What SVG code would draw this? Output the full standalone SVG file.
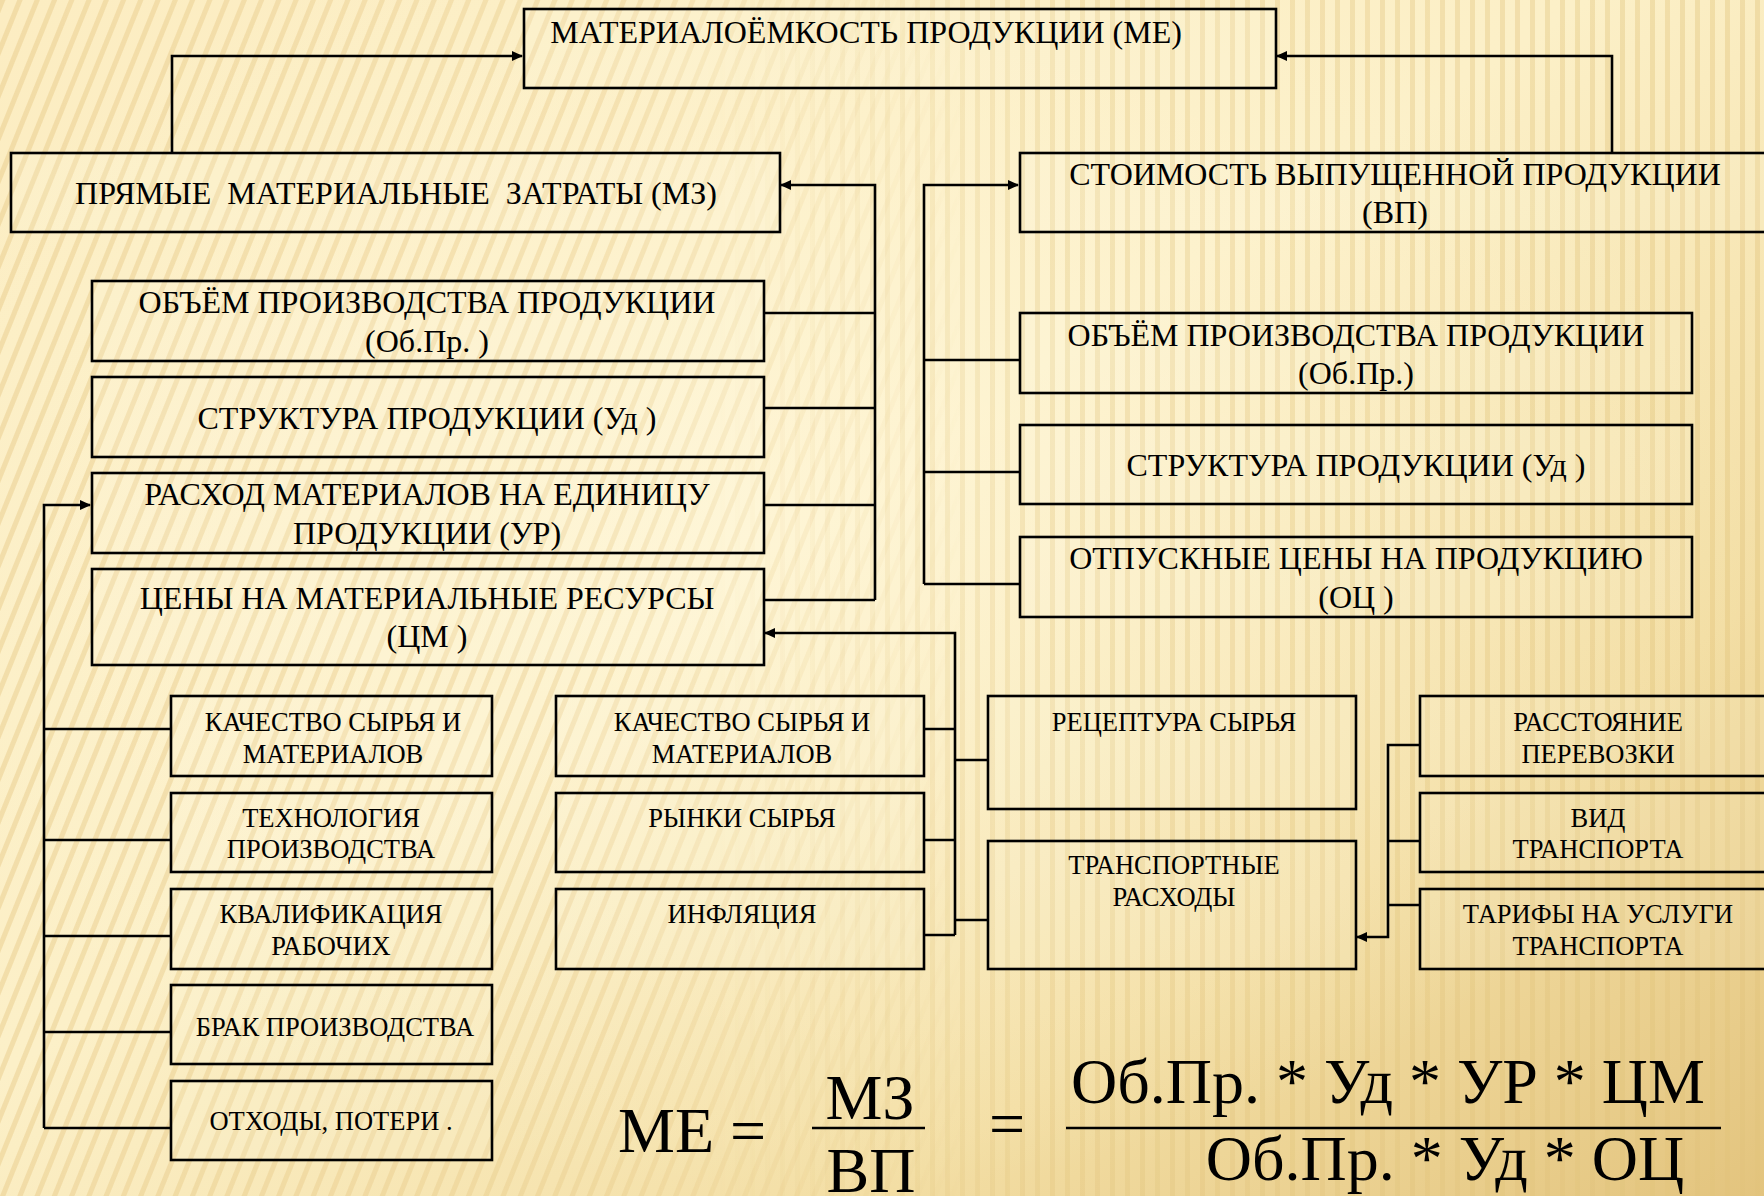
<svg xmlns="http://www.w3.org/2000/svg" width="1764" height="1196" viewBox="0 0 1764 1196">
<defs>
<linearGradient id="bgGrad" x1="0" y1="0" x2="1" y2="1">
<stop offset="0" stop-color="#FCEDC2"/>
<stop offset="0.45" stop-color="#FCF0C8"/>
<stop offset="0.75" stop-color="#F3DEA4"/>
<stop offset="1" stop-color="#E3C47E"/>
</linearGradient>
<radialGradient id="glow" cx="0.45" cy="0.45" r="0.55">
<stop offset="0" stop-color="#FFF7DA" stop-opacity="0.7"/>
<stop offset="1" stop-color="#FFF7DA" stop-opacity="0"/>
</radialGradient>
<pattern id="diag" width="16" height="16" patternUnits="userSpaceOnUse" patternTransform="rotate(22)">
<rect x="0" y="0" width="5" height="16" fill="#E6C985" fill-opacity="0.45"/>
</pattern>
<pattern id="vert" width="15" height="15" patternUnits="userSpaceOnUse">
<rect x="0" y="0" width="5" height="15" fill="#E2C27A" fill-opacity="0.4"/>
</pattern>
<linearGradient id="fadeL" x1="0" y1="0" x2="1" y2="0">
<stop offset="0" stop-color="#fff" stop-opacity="1"/>
<stop offset="0.35" stop-color="#fff" stop-opacity="0.8"/>
<stop offset="0.55" stop-color="#fff" stop-opacity="0"/>
</linearGradient>
<linearGradient id="fadeR" x1="0" y1="0" x2="1" y2="0">
<stop offset="0.4" stop-color="#fff" stop-opacity="0"/>
<stop offset="0.6" stop-color="#fff" stop-opacity="0.8"/>
<stop offset="1" stop-color="#fff" stop-opacity="1"/>
</linearGradient>
<mask id="mL"><rect width="1764" height="1196" fill="url(#fadeL)"/></mask>
<mask id="mR"><rect width="1764" height="1196" fill="url(#fadeR)"/></mask>
<marker id="arr" markerUnits="userSpaceOnUse" markerWidth="11" markerHeight="10" refX="10" refY="5" orient="auto">
<path d="M0,0 L11,5 L0,10 z" fill="#000"/>
</marker>
<style>
.box{fill:#FFFDF0;fill-opacity:0.12;stroke:#000;stroke-width:2.6}
.ln{fill:none;stroke:#000;stroke-width:2.6}
.t{font-family:"Liberation Serif","Times New Roman",serif;fill:#000;text-anchor:middle}
.big{font-size:32px}
.sm{font-size:26.5px}
.f{font-family:"Liberation Serif","Times New Roman",serif;fill:#000;font-size:64px}
</style>
</defs>

<g id="background">
<rect width="1764" height="1196" fill="url(#bgGrad)"/>
<rect width="1764" height="1196" fill="url(#glow)"/>
<rect width="1764" height="1196" fill="url(#diag)" mask="url(#mL)"/>
<rect width="1764" height="1196" fill="url(#vert)" mask="url(#mR)"/>
</g>

<g id="connectors">
<path class="ln" d="M172,153 V56 H522" marker-end="url(#arr)"/>
<path class="ln" d="M1612,153 V56 H1277" marker-end="url(#arr)"/>
<path class="ln" d="M875,600 V185 H781" marker-end="url(#arr)"/>
<path class="ln" d="M764,313 H875 M764,408 H875 M764,505 H875 M764,600 H875"/>
<path class="ln" d="M924,584 V185 H1018" marker-end="url(#arr)"/>
<path class="ln" d="M924,360 H1020 M924,472 H1020 M924,584 H1020"/>
<path class="ln" d="M955,935 V633 H765" marker-end="url(#arr)"/>
<path class="ln" d="M924,729 H955 M924,840 H955 M924,935 H955 M955,760 H988 M955,920 H988"/>
<path class="ln" d="M1420,745 H1388 V937 H1357" marker-end="url(#arr)"/>
<path class="ln" d="M1388,841 H1420 M1388,905 H1420"/>
<path class="ln" d="M44,1128 V505 H90" marker-end="url(#arr)"/>
<path class="ln" d="M44,729 H171 M44,840 H171 M44,936 H171 M44,1032 H171 M44,1128 H171"/>
</g>

<g id="node-me">
<rect class="box" x="524" y="9" width="752" height="79"/>
<text class="t big" x="866" y="43">МАТЕРИАЛОЁМКОСТЬ ПРОДУКЦИИ (МЕ)</text>
</g>

<g id="node-mz">
<rect class="box" x="11" y="153" width="769" height="79"/>
<text class="t big" x="396" y="204" xml:space="preserve" style="white-space:pre">ПРЯМЫЕ  МАТЕРИАЛЬНЫЕ  ЗАТРАТЫ (МЗ)</text>
</g>

<g id="node-vp">
<rect class="box" x="1020" y="153" width="800" height="79"/>
<text class="t big" x="1395" y="185">СТОИМОСТЬ ВЫПУЩЕННОЙ ПРОДУКЦИИ</text>
<text class="t big" x="1395" y="223">(ВП)</text>
</g>

<g id="node-l-obem">
<rect class="box" x="92" y="281" width="672" height="80"/>
<text class="t big" x="427" y="313">ОБЪЁМ ПРОИЗВОДСТВА ПРОДУКЦИИ</text>
<text class="t big" x="427" y="352">(Об.Пр. )</text>
</g>

<g id="node-l-struct">
<rect class="box" x="92" y="377" width="672" height="80"/>
<text class="t big" x="427" y="429">СТРУКТУРА ПРОДУКЦИИ (Уд )</text>
</g>

<g id="node-l-rashod">
<rect class="box" x="92" y="473" width="672" height="80"/>
<text class="t big" x="427" y="505">РАСХОД МАТЕРИАЛОВ НА ЕДИНИЦУ</text>
<text class="t big" x="427" y="544">ПРОДУКЦИИ (УР)</text>
</g>

<g id="node-l-ceny">
<rect class="box" x="92" y="569" width="672" height="96"/>
<text class="t big" x="427" y="609">ЦЕНЫ НА МАТЕРИАЛЬНЫЕ РЕСУРСЫ</text>
<text class="t big" x="427" y="647">(ЦМ )</text>
</g>

<g id="node-r-obem">
<rect class="box" x="1020" y="313" width="672" height="80"/>
<text class="t big" x="1356" y="346">ОБЪЁМ ПРОИЗВОДСТВА ПРОДУКЦИИ</text>
<text class="t big" x="1356" y="384">(Об.Пр.)</text>
</g>

<g id="node-r-struct">
<rect class="box" x="1020" y="425" width="672" height="79"/>
<text class="t big" x="1356" y="476">СТРУКТУРА ПРОДУКЦИИ (Уд )</text>
</g>

<g id="node-r-ceny">
<rect class="box" x="1020" y="537" width="672" height="80"/>
<text class="t big" x="1356" y="569">ОТПУСКНЫЕ ЦЕНЫ НА ПРОДУКЦИЮ</text>
<text class="t big" x="1356" y="608">(ОЦ )</text>
</g>

<g id="node-l-kach">
<rect class="box" x="171" y="696" width="321" height="80"/>
<text class="t sm" x="333" y="731">КАЧЕСТВО СЫРЬЯ И</text>
<text class="t sm" x="333" y="763">МАТЕРИАЛОВ</text>
</g>

<g id="node-l-tech">
<rect class="box" x="171" y="793" width="321" height="79"/>
<text class="t sm" x="331" y="827">ТЕХНОЛОГИЯ</text>
<text class="t sm" x="331" y="858">ПРОИЗВОДСТВА</text>
</g>

<g id="node-l-kval">
<rect class="box" x="171" y="889" width="321" height="80"/>
<text class="t sm" x="331" y="923">КВАЛИФИКАЦИЯ</text>
<text class="t sm" x="331" y="955">РАБОЧИХ</text>
</g>

<g id="node-l-brak">
<rect class="box" x="171" y="985" width="321" height="79"/>
<text class="t sm" x="335" y="1036">БРАК ПРОИЗВОДСТВА</text>
</g>

<g id="node-l-othody">
<rect class="box" x="171" y="1081" width="321" height="79"/>
<text class="t sm" x="331" y="1130">ОТХОДЫ, ПОТЕРИ .</text>
</g>

<g id="node-m-kach">
<rect class="box" x="556" y="696" width="368" height="80"/>
<text class="t sm" x="742" y="731">КАЧЕСТВО СЫРЬЯ И</text>
<text class="t sm" x="742" y="763">МАТЕРИАЛОВ</text>
</g>

<g id="node-m-rynki">
<rect class="box" x="556" y="793" width="368" height="79"/>
<text class="t sm" x="742" y="827">РЫНКИ СЫРЬЯ</text>
</g>

<g id="node-m-infl">
<rect class="box" x="556" y="889" width="368" height="80"/>
<text class="t sm" x="742" y="923">ИНФЛЯЦИЯ</text>
</g>

<g id="node-receptura">
<rect class="box" x="988" y="696" width="368" height="113"/>
<text class="t sm" x="1174" y="731">РЕЦЕПТУРА СЫРЬЯ</text>
</g>

<g id="node-transport">
<rect class="box" x="988" y="841" width="368" height="128"/>
<text class="t sm" x="1174" y="874">ТРАНСПОРТНЫЕ</text>
<text class="t sm" x="1174" y="906">РАСХОДЫ</text>
</g>

<g id="node-rasst">
<rect class="box" x="1420" y="696" width="400" height="80"/>
<text class="t sm" x="1598" y="731">РАССТОЯНИЕ</text>
<text class="t sm" x="1598" y="763">ПЕРЕВОЗКИ</text>
</g>

<g id="node-vid">
<rect class="box" x="1420" y="793" width="400" height="79"/>
<text class="t sm" x="1598" y="827">ВИД</text>
<text class="t sm" x="1598" y="858">ТРАНСПОРТА</text>
</g>

<g id="node-tarify">
<rect class="box" x="1420" y="889" width="400" height="80"/>
<text class="t sm" x="1598" y="923">ТАРИФЫ НА УСЛУГИ</text>
<text class="t sm" x="1598" y="955">ТРАНСПОРТА</text>
</g>

<g id="formula">
<text class="f" x="618" y="1152">МЕ =</text>
<text class="f" x="870" y="1119" text-anchor="middle">МЗ</text>
<line x1="812" y1="1128" x2="925" y2="1128" stroke="#000" stroke-width="2.6"/>
<text class="f" x="871" y="1192" text-anchor="middle">ВП</text>
<text class="f" x="1007" y="1145" text-anchor="middle">=</text>
<text class="f" x="1388" y="1103" text-anchor="middle">Об.Пр. * Уд * УР * ЦМ</text>
<line x1="1066" y1="1128" x2="1721" y2="1128" stroke="#000" stroke-width="2.6"/>
<text class="f" x="1445" y="1180" text-anchor="middle">Об.Пр. * Уд * ОЦ</text>
</g>
</svg>
